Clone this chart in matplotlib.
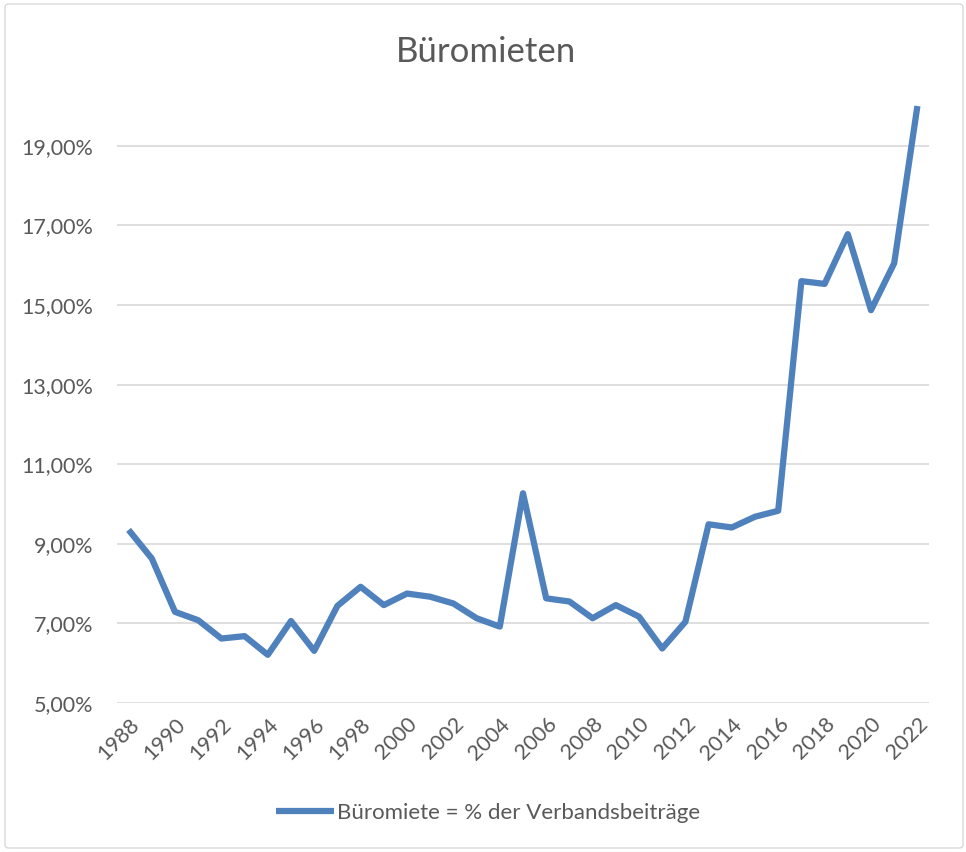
import matplotlib.pyplot as plt
from matplotlib.patches import FancyBboxPatch
from matplotlib.ticker import FuncFormatter

plt.rcParams['font.family'] = ['Lato', 'DejaVu Sans']

# Jahre und Anteil der Büromiete an den Verbandsbeiträgen (%)
jahre = list(range(1988, 2023))
anteil = [9.35, 8.63, 7.29, 7.08, 6.62, 6.68, 6.21, 7.06, 6.31, 7.44,
          7.92, 7.46, 7.75, 7.67, 7.50, 7.13, 6.92, 10.27, 7.63, 7.55,
          7.13, 7.46, 7.17, 6.37, 7.04, 9.49, 9.41, 9.68, 9.83, 15.60,
          15.53, 16.78, 14.87, 16.05, 20.00]
y_ticks = [5, 7, 9, 11, 13, 15, 17, 19]

grau = '#595959'
fig = plt.figure(figsize=(9.66, 8.52), dpi=100)

# Rahmen um das Diagramm
rahmen = FancyBboxPatch((5 / 966, 4 / 852), 958 / 966, 844 / 852,
                        boxstyle='round,pad=0,rounding_size=0.004',
                        transform=fig.transFigure, fill=False,
                        edgecolor='#d9d9d9', linewidth=1)
fig.patches.append(rahmen)

ax = fig.add_axes([117 / 966, 1 - 703 / 852, 812 / 966, 597 / 852])
x = list(range(len(jahre)))
ax.plot(x, anteil, color='#4f81bd', linewidth=4.5, solid_joinstyle='round',
        solid_capstyle='butt', label='Büromiete = % der Verbandsbeiträge',
        clip_on=False, zorder=3)

ax.set_xlim(-0.5, len(jahre) - 0.5)
ax.set_ylim(5, 20)
ax.set_yticks(y_ticks)
ax.yaxis.set_major_formatter(FuncFormatter(lambda v, p: f'{v:.2f}%'.replace('.', ',')))
ax.set_xticks(x[::2])
ax.set_xticklabels([str(j) for j in jahre[::2]], rotation=45, ha='right',
                   rotation_mode='anchor')
ax.tick_params(axis='both', length=0, labelsize=15.5, colors=grau)
ax.tick_params(axis='x', pad=8)
ax.tick_params(axis='y', pad=17)
ax.grid(axis='y', color='#d9d9d9', linewidth=1.2)
ax.set_axisbelow(True)
for s in ax.spines.values():
    s.set_visible(False)

fig.text(486 / 966, 1 - 52 / 852, 'Büromieten', ha='center', va='center',
         fontsize=25, color=grau)

leg = fig.legend(loc='center', bbox_to_anchor=(488 / 966, 1 - 813 / 852),
                 frameon=False, fontsize=16, handlelength=2.6,
                 handletextpad=0.15)
for t in leg.get_texts():
    t.set_color(grau)

fig.savefig('out.png', dpi=100)
